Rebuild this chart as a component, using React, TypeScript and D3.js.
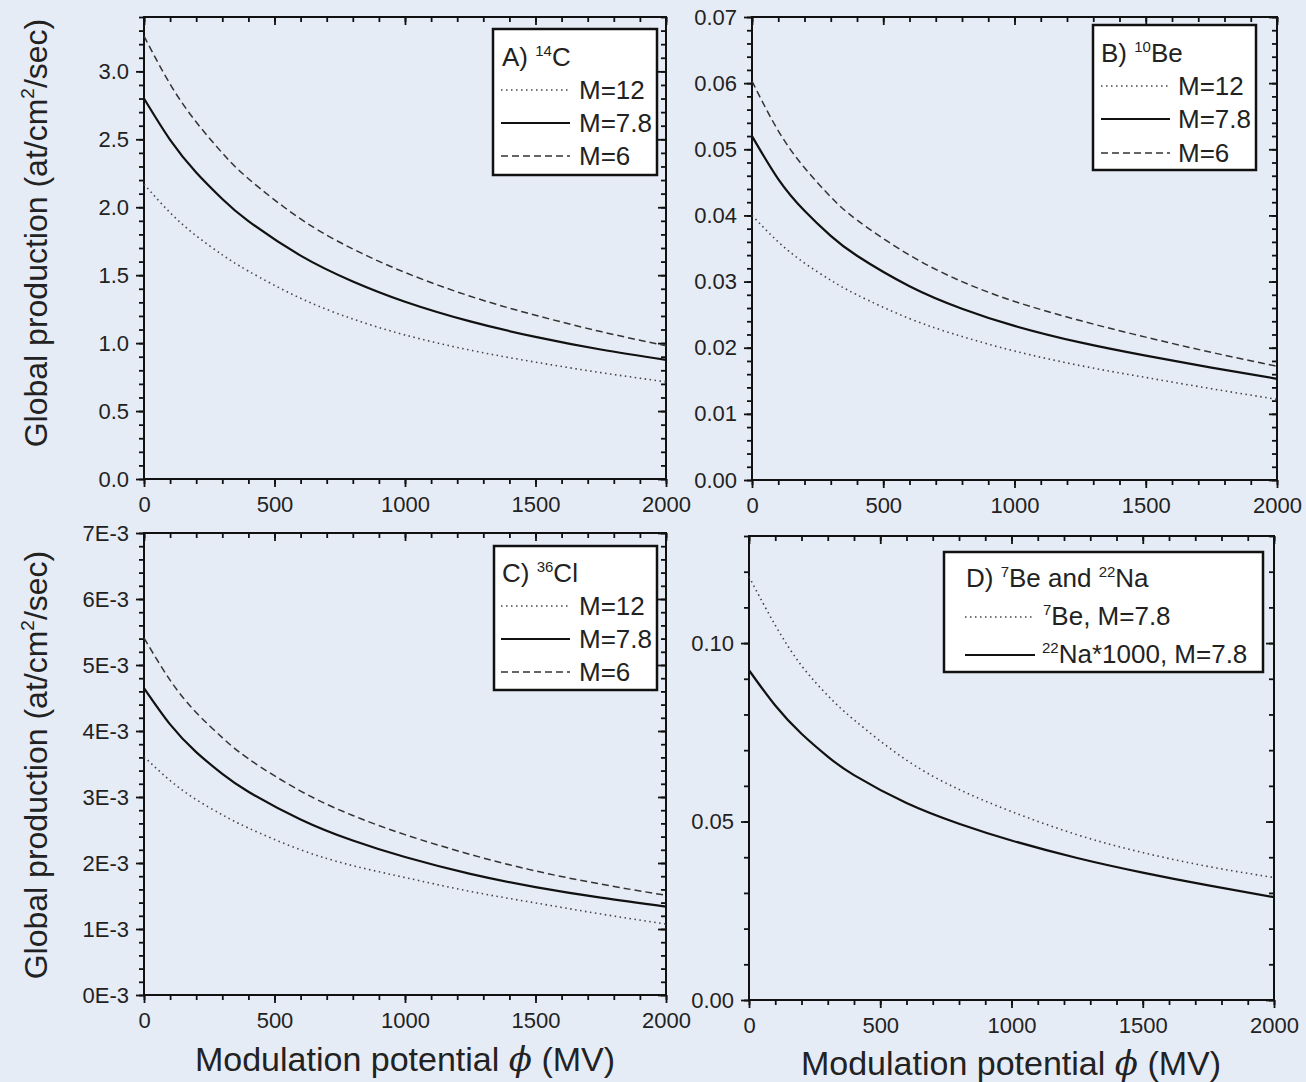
import React, { useEffect, useRef } from 'react';
import * as d3 from 'd3';

// modulation potential grid (MV)
const phi = [0, 100, 200, 300, 400, 600, 800, 1000, 1250, 1500, 1750, 2000];
const xTicks = [0, 500, 1000, 1500, 2000];

// A) 14C, at/cm2/sec
const c14M12 = [2.17, 1.96, 1.79, 1.65, 1.53, 1.33, 1.178, 1.06, 0.948, 0.86, 0.783, 0.715];
const c14M78 = [2.80, 2.496, 2.256, 2.061, 1.898, 1.644, 1.454, 1.305, 1.16, 1.046, 0.953, 0.877];
const c14M6 = [3.26, 2.906, 2.627, 2.399, 2.21, 1.914, 1.693, 1.52, 1.345, 1.205, 1.085, 0.98];

// B) 10Be
const be10M12 = [0.0400, 0.0360, 0.0328, 0.0302, 0.0280, 0.0244, 0.0217, 0.0195, 0.0173, 0.0155, 0.0138, 0.0122];
const be10M78 = [0.0520, 0.0455, 0.0407, 0.0369, 0.0339, 0.0293, 0.0259, 0.0233, 0.0208, 0.0188, 0.0170, 0.0153];
const be10M6 = [0.0603, 0.0528, 0.0472, 0.0428, 0.0393, 0.0340, 0.0300, 0.0270, 0.0241, 0.0216, 0.0193, 0.0172];

// C) 36Cl, in units of 1E-3
const cl36M12 = [3.61, 3.25, 2.96, 2.73, 2.53, 2.20, 1.96, 1.78, 1.57, 1.395, 1.228, 1.075];
const cl36M78 = [4.65, 4.10, 3.68, 3.35, 3.08, 2.66, 2.34, 2.09, 1.835, 1.635, 1.475, 1.34];
const cl36M6 = [5.41, 4.77, 4.28, 3.90, 3.58, 3.09, 2.72, 2.43, 2.13, 1.88, 1.68, 1.51];

// D) 7Be and 22Na*1000
const be7M78 = [0.1186, 0.1050, 0.0937, 0.0853, 0.0785, 0.0672, 0.0590, 0.0528, 0.0463, 0.0413, 0.0374, 0.0343];
const na22M78 = [0.0924, 0.0825, 0.0746, 0.0682, 0.0630, 0.0552, 0.0494, 0.0447, 0.0398, 0.0357, 0.0321, 0.0288];

const yTicksA = [0, 0.5, 1.0, 1.5, 2.0, 2.5, 3.0];
const yTicksB = [0, 0.01, 0.02, 0.03, 0.04, 0.05, 0.06, 0.07];
const yTicksC = [0, 1, 2, 3, 4, 5, 6, 7];
const yTicksD = [0, 0.05, 0.10];

const W = 1306;
const H = 1082;
const BG = '#e6ecf6';
const FONT = '"Liberation Sans", Arial, sans-serif';

const lineStyles = {
  dot: { stroke: '#444', width: 1.6, dash: '1.5,3.5' },
  solid: { stroke: '#111', width: 2.2, dash: null },
  dash: { stroke: '#333', width: 1.5, dash: '7,4' },
};

const panels = [
  {
    box: [144, 666, 17, 479], yMax: 3.4, yTicks: yTicksA, yMinor: 0.1, fmt: d => d.toFixed(1),
    series: [{ v: c14M12, s: 'dot' }, { v: c14M78, s: 'solid' }, { v: c14M6, s: 'dash' }],
    legend: {
      rect: [493, 29, 164, 146], title: [502, 66, [['A) ', 0], ['14', 1], ['C', 0]]],
      entries: [
        { s: 'dot', lx: [501, 570], ly: 90, tx: 579, ty: 99, parts: [['M=12', 0]] },
        { s: 'solid', lx: [501, 570], ly: 123, tx: 579, ty: 132, parts: [['M=7.8', 0]] },
        { s: 'dash', lx: [501, 570], ly: 156, tx: 579, ty: 165, parts: [['M=6', 0]] },
      ],
    },
  },
  {
    box: [752, 1277, 17, 480], yMax: 0.07, yTicks: yTicksB, yMinor: 0.002, fmt: d => d.toFixed(2),
    series: [{ v: be10M12, s: 'dot' }, { v: be10M78, s: 'solid' }, { v: be10M6, s: 'dash' }],
    legend: {
      rect: [1093, 25, 163, 145], title: [1101, 62, [['B) ', 0], ['10', 1], ['Be', 0]]],
      entries: [
        { s: 'dot', lx: [1101, 1170], ly: 86, tx: 1178, ty: 95, parts: [['M=12', 0]] },
        { s: 'solid', lx: [1101, 1170], ly: 119, tx: 1178, ty: 128, parts: [['M=7.8', 0]] },
        { s: 'dash', lx: [1101, 1170], ly: 153, tx: 1178, ty: 162, parts: [['M=6', 0]] },
      ],
    },
  },
  {
    box: [144, 666, 533, 995], yMax: 7, yTicks: yTicksC, yMinor: 0.2, fmt: d => `${d}E-3`,
    series: [{ v: cl36M12, s: 'dot' }, { v: cl36M78, s: 'solid' }, { v: cl36M6, s: 'dash' }],
    legend: {
      rect: [494, 546, 163, 144], title: [502, 582, [['C) ', 0], ['36', 1], ['Cl', 0]]],
      entries: [
        { s: 'dot', lx: [501, 570], ly: 606, tx: 579, ty: 615, parts: [['M=12', 0]] },
        { s: 'solid', lx: [501, 570], ly: 639, tx: 579, ty: 648, parts: [['M=7.8', 0]] },
        { s: 'dash', lx: [501, 570], ly: 672, tx: 579, ty: 681, parts: [['M=6', 0]] },
      ],
    },
  },
  {
    box: [749, 1274, 536, 1000], yMax: 0.13, yTicks: yTicksD, yMinor: 0.01, fmt: d => d.toFixed(2),
    series: [{ v: be7M78, s: 'dot' }, { v: na22M78, s: 'solid' }],
    legend: {
      rect: [944, 552, 319, 120], title: [966, 587, [['D) ', 0], ['7', 1], ['Be and ', 0], ['22', 1], ['Na', 0]]],
      entries: [
        { s: 'dot', lx: [965, 1033], ly: 617, tx: 1043, ty: 625, parts: [['7', 1], ['Be, M=7.8', 0]] },
        { s: 'solid', lx: [965, 1035], ly: 655, tx: 1042, ty: 663, parts: [['22', 1], ['Na*1000, M=7.8', 0]] },
      ],
    },
  },
];

// text with raised superscripts
function richText(sel, parts, supSize, raise) {
  let up = false;
  parts.forEach(([t, sup]) => {
    const ts = sel.append('tspan').text(t);
    if (sup && !up) { ts.attr('dy', -raise).attr('font-size', supSize); up = true; }
    else if (sup) { ts.attr('font-size', supSize); }
    else if (up) { ts.attr('dy', raise); up = false; }
  });
}

function App() {
  const svgRef = useRef(null);

  useEffect(() => {
    const svg = d3.select(svgRef.current);
    svg.selectAll('*').remove();
    svg.append('rect').attr('width', W).attr('height', H).attr('fill', BG);

    panels.forEach(p => {
      const [l, r, t, b] = p.box;
      const x = d3.scaleLinear().domain([0, 2000]).range([l, r]);
      const y = d3.scaleLinear().domain([0, p.yMax]).range([b, t]);
      const g = svg.append('g');
      const xMinor = d3.range(0, 2001, 100);
      const yMinor = d3.range(0, p.yMax + p.yMinor / 2, p.yMinor);
      const none = () => '';

      const axes = [
        [`translate(0,${b})`, d3.axisBottom(x).tickValues(xMinor).tickSize(5).tickFormat(none)],
        [`translate(0,${b})`, d3.axisBottom(x).tickValues(xTicks).tickSize(8).tickPadding(9).tickFormat(d3.format('d'))],
        [`translate(0,${t})`, d3.axisTop(x).tickValues(xMinor).tickSize(-5).tickFormat(none)],
        [`translate(0,${t})`, d3.axisTop(x).tickValues(xTicks).tickSize(-8).tickFormat(none)],
        [`translate(${l},0)`, d3.axisLeft(y).tickValues(yMinor).tickSize(5).tickFormat(none)],
        [`translate(${l},0)`, d3.axisLeft(y).tickValues(p.yTicks).tickSize(8).tickPadding(7).tickFormat(p.fmt)],
        [`translate(${r},0)`, d3.axisRight(y).tickValues(yMinor).tickSize(-5).tickFormat(none)],
        [`translate(${r},0)`, d3.axisRight(y).tickValues(p.yTicks).tickSize(-8).tickFormat(none)],
      ];
      axes.forEach(([tr, ax]) => {
        const a = g.append('g').attr('transform', tr).call(ax);
        a.select('.domain').remove();
        a.selectAll('line').attr('stroke', '#111').attr('stroke-width', 1.8);
        a.selectAll('text').attr('font-family', FONT).attr('font-size', 22).attr('fill', '#222');
      });

      g.append('rect').attr('x', l).attr('y', t).attr('width', r - l).attr('height', b - t)
        .attr('fill', 'none').attr('stroke', '#111').attr('stroke-width', 2);

      const line = d3.line().x((d, i) => x(phi[i])).y(d => y(d)).curve(d3.curveNatural);
      p.series.forEach(s => {
        const st = lineStyles[s.s];
        g.append('path').attr('d', line(s.v)).attr('fill', 'none')
          .attr('stroke', st.stroke).attr('stroke-width', st.width)
          .attr('stroke-dasharray', st.dash);
      });

      // legend box
      const lg = p.legend;
      const [rx, ry, rw, rh] = lg.rect;
      g.append('rect').attr('x', rx).attr('y', ry).attr('width', rw).attr('height', rh)
        .attr('fill', '#fff').attr('stroke', '#111').attr('stroke-width', 2.5);
      const title = g.append('text').attr('x', lg.title[0]).attr('y', lg.title[1])
        .attr('font-family', FONT).attr('font-size', 26).attr('fill', '#222');
      richText(title, lg.title[2], 15, 10);
      lg.entries.forEach(e => {
        const st = lineStyles[e.s];
        g.append('line').attr('x1', e.lx[0]).attr('x2', e.lx[1]).attr('y1', e.ly).attr('y2', e.ly)
          .attr('stroke', st.stroke).attr('stroke-width', st.width).attr('stroke-dasharray', st.dash);
        const tx = g.append('text').attr('x', e.tx).attr('y', e.ty)
          .attr('font-family', FONT).attr('font-size', 26).attr('fill', '#222');
        richText(tx, e.parts, 15, 10);
      });
    });

    // y titles
    [233, 765].forEach(cy => {
      const yt = svg.append('text').attr('transform', `translate(47,${cy}) rotate(-90)`)
        .attr('text-anchor', 'middle').attr('font-family', FONT).attr('font-size', 32).attr('fill', '#222');
      richText(yt, [['Global production (at/cm', 0], ['2', 1], ['/sec)', 0]], 19, 13);
    });

    // x titles
    [[405, 1071], [1011, 1075]].forEach(([cx, cy]) => {
      const xt = svg.append('text').attr('x', cx).attr('y', cy).attr('text-anchor', 'middle')
        .attr('font-family', FONT).attr('font-size', 34).attr('fill', '#222');
      xt.append('tspan').text('Modulation potential ');
      xt.append('tspan').text('\u03D5').attr('font-family', '"DejaVu Serif", serif').attr('font-style', 'italic');
      xt.append('tspan').text(' (MV)');
    });
  }, []);

  return (
    <div style={{ position: 'absolute', left: 0, top: 0 }}>
      <svg ref={svgRef} width={W} height={H} style={{ display: 'block' }}></svg>
    </div>
  );
}

export default App;
